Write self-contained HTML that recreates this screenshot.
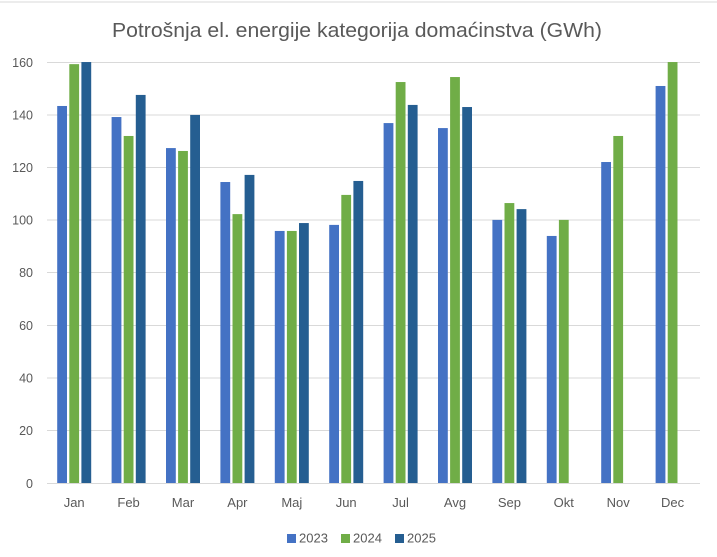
<!DOCTYPE html>
<html>
<head>
<meta charset="utf-8">
<style>
  html, body { margin:0; padding:0; background:#fff; }
  svg { display:block; }
  text { font-family: "Liberation Sans", sans-serif; fill:#595959; }
</style>
</head>
<body>
<svg width="717" height="557" viewBox="0 0 717 557" xmlns="http://www.w3.org/2000/svg">
  <rect x="0" y="0" width="717" height="557" fill="#fff"/>
  <line x1="0" y1="2" x2="717" y2="2" stroke="#D9D9D9" stroke-width="1"/>

  <text x="112" y="37" font-size="20.5" textLength="490" lengthAdjust="spacingAndGlyphs">Potrošnja el. energije kategorija domaćinstva (GWh)</text>

  <!-- gridlines -->
  <g stroke="#D9D9D9" stroke-width="1">
    <line x1="47" y1="62.5" x2="700" y2="62.5"/>
    <line x1="47" y1="115" x2="700" y2="115"/>
    <line x1="47" y1="167.5" x2="700" y2="167.5"/>
    <line x1="47" y1="220" x2="700" y2="220"/>
    <line x1="47" y1="272.5" x2="700" y2="272.5"/>
    <line x1="47" y1="325.5" x2="700" y2="325.5"/>
    <line x1="47" y1="378" x2="700" y2="378"/>
    <line x1="47" y1="430.5" x2="700" y2="430.5"/>
    <line x1="47" y1="483.5" x2="700" y2="483.5"/>
  </g>

  <!-- y labels -->
  <g font-size="12.5" text-anchor="end">
    <text x="33" y="67">160</text>
    <text x="33" y="119.5">140</text>
    <text x="33" y="172">120</text>
    <text x="33" y="224.5">100</text>
    <text x="33" y="277">80</text>
    <text x="33" y="330">60</text>
    <text x="33" y="382.5">40</text>
    <text x="33" y="435">20</text>
    <text x="33" y="488">0</text>
  </g>

  <!-- bars -->
  <g transform="translate(0,483) scale(1,-2.631)">
    <g transform="translate(74.2,0)">
      <rect x="-17" y="0" width="9.8" height="143.3" fill="#4472C4"/>
      <rect x="-4.9" y="0" width="9.8" height="159.2" fill="#70AD47"/>
      <rect x="7.2" y="0" width="9.8" height="160" fill="#255E91"/>
    </g>
    <g transform="translate(128.6,0)">
      <rect x="-17" y="0" width="9.8" height="139.1" fill="#4472C4"/>
      <rect x="-4.9" y="0" width="9.8" height="131.9" fill="#70AD47"/>
      <rect x="7.2" y="0" width="9.8" height="147.5" fill="#255E91"/>
    </g>
    <g transform="translate(183.0,0)">
      <rect x="-17" y="0" width="9.8" height="127.3" fill="#4472C4"/>
      <rect x="-4.9" y="0" width="9.8" height="126.2" fill="#70AD47"/>
      <rect x="7.2" y="0" width="9.8" height="139.9" fill="#255E91"/>
    </g>
    <g transform="translate(237.4,0)">
      <rect x="-17" y="0" width="9.8" height="114.4" fill="#4472C4"/>
      <rect x="-4.9" y="0" width="9.8" height="102.2" fill="#70AD47"/>
      <rect x="7.2" y="0" width="9.8" height="117.1" fill="#255E91"/>
    </g>
    <g transform="translate(291.8,0)">
      <rect x="-17" y="0" width="9.8" height="95.8" fill="#4472C4"/>
      <rect x="-4.9" y="0" width="9.8" height="95.8" fill="#70AD47"/>
      <rect x="7.2" y="0" width="9.8" height="98.8" fill="#255E91"/>
    </g>
    <g transform="translate(346.2,0)">
      <rect x="-17" y="0" width="9.8" height="98.1" fill="#4472C4"/>
      <rect x="-4.9" y="0" width="9.8" height="109.5" fill="#70AD47"/>
      <rect x="7.2" y="0" width="9.8" height="114.8" fill="#255E91"/>
    </g>
    <g transform="translate(400.6,0)">
      <rect x="-17" y="0" width="9.8" height="136.8" fill="#4472C4"/>
      <rect x="-4.9" y="0" width="9.8" height="152.4" fill="#70AD47"/>
      <rect x="7.2" y="0" width="9.8" height="143.7" fill="#255E91"/>
    </g>
    <g transform="translate(455.0,0)">
      <rect x="-17" y="0" width="9.8" height="134.9" fill="#4472C4"/>
      <rect x="-4.9" y="0" width="9.8" height="154.3" fill="#70AD47"/>
      <rect x="7.2" y="0" width="9.8" height="142.9" fill="#255E91"/>
    </g>
    <g transform="translate(509.4,0)">
      <rect x="-17" y="0" width="9.8" height="100" fill="#4472C4"/>
      <rect x="-4.9" y="0" width="9.8" height="106.4" fill="#70AD47"/>
      <rect x="7.2" y="0" width="9.8" height="104.1" fill="#255E91"/>
    </g>
    <g transform="translate(563.8,0)">
      <rect x="-17" y="0" width="9.8" height="93.9" fill="#4472C4"/>
      <rect x="-4.9" y="0" width="9.8" height="100" fill="#70AD47"/>
    </g>
    <g transform="translate(618.2,0)">
      <rect x="-17" y="0" width="9.8" height="122" fill="#4472C4"/>
      <rect x="-4.9" y="0" width="9.8" height="131.9" fill="#70AD47"/>
    </g>
    <g transform="translate(672.6,0)">
      <rect x="-17" y="0" width="9.8" height="150.9" fill="#4472C4"/>
      <rect x="-4.9" y="0" width="9.8" height="160" fill="#70AD47"/>
    </g>
  </g>

  <!-- x labels -->
  <g font-size="13" text-anchor="middle">
    <text x="74.2" y="507">Jan</text>
    <text x="128.6" y="507">Feb</text>
    <text x="183.0" y="507">Mar</text>
    <text x="237.4" y="507">Apr</text>
    <text x="291.8" y="507">Maj</text>
    <text x="346.2" y="507">Jun</text>
    <text x="400.6" y="507">Jul</text>
    <text x="455.0" y="507">Avg</text>
    <text x="509.4" y="507">Sep</text>
    <text x="563.8" y="507">Okt</text>
    <text x="618.2" y="507">Nov</text>
    <text x="672.6" y="507">Dec</text>
  </g>

  <!-- legend -->
  <g font-size="13">
    <rect x="287" y="534" width="9" height="9" fill="#4472C4"/>
    <text x="299" y="542.5">2023</text>
    <rect x="341" y="534" width="9" height="9" fill="#70AD47"/>
    <text x="353" y="542.5">2024</text>
    <rect x="395" y="534" width="9" height="9" fill="#255E91"/>
    <text x="407" y="542.5">2025</text>
  </g>
</svg>
</body>
</html>
